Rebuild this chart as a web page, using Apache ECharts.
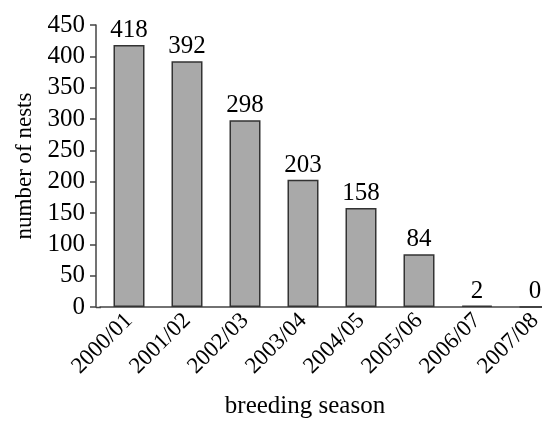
<!DOCTYPE html>
<html><head><meta charset="utf-8">
<script src="https://cdn.jsdelivr.net/npm/echarts@6/dist/echarts.min.js"></script>
<style>html,body{margin:0;padding:0;background:#fff}#c{width:542px;height:424px}</style>
</head><body><div id="c"></div>
<script>
const seasons = ['2000/01','2001/02','2002/03','2003/04','2004/05','2005/06','2006/07','2007/08'];
const nests = [418, 392, 298, 203, 158, 84, 2, 0];
const yTicks = {min: 0, max: 450, interval: 50};
const FONT = 'Liberation Serif';
const chart = echarts.init(document.getElementById('c'), null, {renderer: 'canvas'});
chart.setOption({
  animation: false,
  backgroundColor: '#fff',
  grid: {left: 100, top: 25, bottom: 117, width: 464, containLabel: false, outerBoundsMode: 'none'},
  title: {text: 'breeding season', left: 300, top: 389, textAlign: 'center',
    textStyle: {fontFamily: FONT, fontSize: 25, fontWeight: 'normal', color: '#000'}},
  graphic: [{type: 'line', shape: {x1: 96, y1: 307.5, x2: 101, y2: 307.5}, style: {stroke: '#444', lineWidth: 1.5}}],
  xAxis: {
    type: 'category', data: seasons,
    axisLine: {lineStyle: {color: '#444', width: 1.5}},
    axisTick: {show: false},
    axisLabel: {rotate: 45, interval: 0, margin: 10, color: '#000', fontFamily: FONT, fontSize: 23}
  },
  yAxis: {
    type: 'value', min: yTicks.min, max: yTicks.max, interval: yTicks.interval,
    offset: 4,
    name: 'number of nests', nameLocation: 'middle', nameGap: 48, nameRotate: 90,
    nameTextStyle: {fontFamily: FONT, fontSize: 23, color: '#000'},
    axisLine: {show: true, lineStyle: {color: '#444', width: 1.5}},
    axisTick: {show: true, inside: false, length: 6, lineStyle: {color: '#444', width: 1.5}},
    axisLabel: {color: '#000', fontFamily: FONT, fontSize: 25, margin: 11},
    splitLine: {show: false}
  },
  series: [{
    type: 'bar', data: nests, barWidth: 31,
    itemStyle: {color: '#a9a9a9', borderColor: '#333', borderWidth: 1.5},
    label: {show: true, position: 'top', distance: 2, color: '#000', fontFamily: FONT, fontSize: 25}
  }]
});
</script></body></html>
